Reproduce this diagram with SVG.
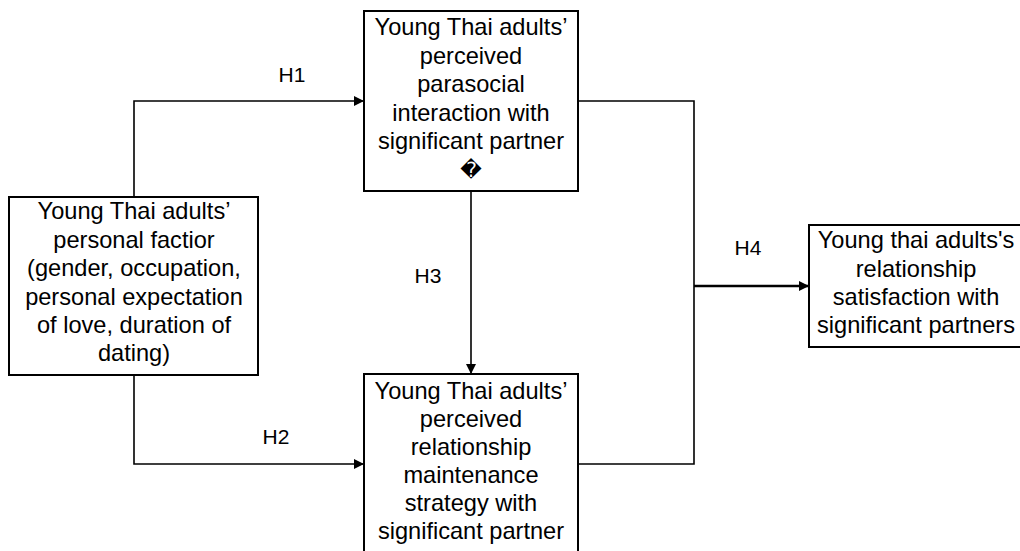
<svg xmlns="http://www.w3.org/2000/svg" width="1020" height="551" viewBox="0 0 1020 551">
<style>
.box{fill:#fff;stroke:#000;stroke-width:2}
.t{font-family:"Liberation Sans",Arial,sans-serif;font-size:23.6px;fill:#000;text-anchor:middle}
.lbl{font-family:"Liberation Sans",Arial,sans-serif;font-size:21px;fill:#000;text-anchor:middle}
.c{fill:none;stroke:#000;stroke-width:1.6}
.c2{fill:none;stroke:#000;stroke-width:2.6}
</style>
<defs>
<marker id="ah" viewBox="0 0 10 10" refX="10" refY="5" markerWidth="11" markerHeight="10" markerUnits="userSpaceOnUse" orient="auto">
<path d="M0,0 L10,5 L0,10 Z" fill="#000"/>
</marker>
</defs>
<rect width="1020" height="551" fill="#fff"/>
<g id="connectors">
<path class="c" d="M134,197 V101 H364" marker-end="url(#ah)"/>
<path class="c" d="M134,375 V464 H364" marker-end="url(#ah)"/>
<path class="c" d="M471,191 V374" marker-end="url(#ah)"/>
<path class="c" d="M578,101 H694 V464 H578"/>
<path class="c2" d="M694,286 H809" marker-end="url(#ah)"/>
<text class="lbl" x="292" y="82">H1</text>
<text class="lbl" x="276" y="444">H2</text>
<text class="lbl" x="428" y="283">H3</text>
<text class="lbl" x="748" y="255">H4</text>
</g>
<g id="node-parasocial">
<rect class="box" x="364" y="11" width="214" height="180"/>
<text class="t" x="471" y="35">Young Thai adults’</text>
<text class="t" x="471" y="63.5">perceived</text>
<text class="t" x="471" y="92">parasocial</text>
<text class="t" x="471" y="120.5">interaction with</text>
<text class="t" x="471" y="149">significant partner</text>
<text class="t" x="471" y="177" style="font-family:'DejaVu Sans',sans-serif;font-size:21px">�</text>
</g>
<g id="node-personal">
<rect class="box" x="9" y="197" width="249" height="178"/>
<text class="t" x="134" y="219">Young Thai adults’</text>
<text class="t" x="134" y="247.5">personal factior</text>
<text class="t" x="134" y="276">(gender, occupation,</text>
<text class="t" x="134" y="304.5">personal expectation</text>
<text class="t" x="134" y="333">of love, duration of</text>
<text class="t" x="134" y="361">dating)</text>
</g>
<g id="node-maintenance">
<rect class="box" x="364" y="374" width="214" height="190"/>
<text class="t" x="471" y="399">Young Thai adults’</text>
<text class="t" x="471" y="427">perceived</text>
<text class="t" x="471" y="455">relationship</text>
<text class="t" x="471" y="483">maintenance</text>
<text class="t" x="471" y="511">strategy with</text>
<text class="t" x="471" y="539">significant partner</text>
</g>
<g id="node-satisfaction">
<rect class="box" x="809" y="225" width="220" height="122"/>
<text class="t" x="916" y="248">Young thai adults's</text>
<text class="t" x="916" y="276.5">relationship</text>
<text class="t" x="916" y="305">satisfaction with</text>
<text class="t" x="916" y="333">significant partners</text>
</g>
</svg>
